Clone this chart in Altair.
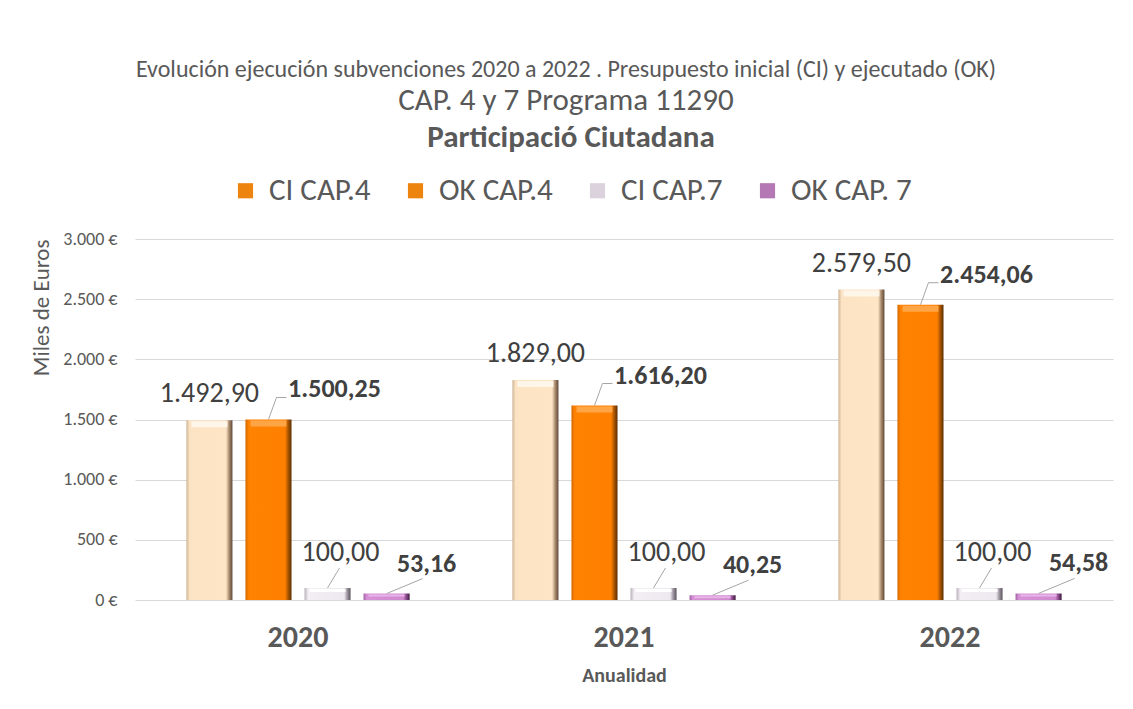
import altair as alt
import pandas as pd

# ---- data ----
years = ["2020", "2021", "2022"]
series = ["CI CAP.4", "OK CAP.4", "CI CAP.7", "OK CAP. 7"]
ci_cap4 = [1492.90, 1829.00, 2579.50]
ok_cap4 = [1500.25, 1616.20, 2454.06]
ci_cap7 = [100.00, 100.00, 100.00]
ok_cap7 = [53.16, 40.25, 54.58]
y_ticks = [0, 500, 1000, 1500, 2000, 2500, 3000]

FONT = "Carlito, Lato, sans-serif"
GRAY = "#595959"
DARK = "#404040"


def es_fmt(v):
    s = f"{v:,.2f}"
    return s.replace(",", "X").replace(".", ",").replace("X", ".")


rows = []
for s, vals in zip(series, [ci_cap4, ok_cap4, ci_cap7, ok_cap7]):
    for yr, v in zip(years, vals):
        rows.append({"year": yr, "series": s, "value": v, "label": es_fmt(v)})
df = pd.DataFrame(rows)


def grad(stops):
    return alt.LinearGradient(
        gradient="linear", x1=0, x2=1, y1=0, y2=0,
        stops=[alt.GradientStop(offset=o, color=c) for o, c in stops],
    )


bar_fills = {
    "CI CAP.4": grad([(0, "#CDB596"), (0.07, "#FBE3C4"), (0.86, "#FDE5C6"), (0.93, "#A88A6C"), (1, "#5E4838")]),
    "OK CAP.4": grad([(0, "#D46A00"), (0.07, "#FF8200"), (0.86, "#FF8000"), (0.93, "#A85400"), (1, "#5A2E00")]),
    "CI CAP.7": grad([(0, "#B8B0BA"), (0.08, "#F3EDF4"), (0.86, "#EEE8F0"), (0.93, "#9C949E"), (1, "#5A545C")]),
    "OK CAP. 7": grad([(0, "#A060A0"), (0.07, "#D792D7"), (0.86, "#D08AD0"), (0.93, "#8A4A8A"), (1, "#3A1A3A")]),
}
top_bevel = {
    "CI CAP.4": ("#FFF6EA", 6),
    "OK CAP.4": ("#FFA545", 6),
    "CI CAP.7": ("#FFFFFF", 3),
    "OK CAP. 7": ("#E9B5E9", 2),
}
legend_colors = ["#EE8410", "#EE8410", "#DCD2DE", "#B478B4"]

x_enc = alt.X(
    "year:N", sort=years, title="Anualidad",
    scale=alt.Scale(paddingInner=0, paddingOuter=0),
    axis=alt.Axis(
        labelFont=FONT, labelFontSize=30, labelFontWeight="bold", labelColor=GRAY,
        labelAngle=0, labelPadding=22, ticks=False, domain=False,
        titleFont=FONT, titleFontSize=20, titleFontWeight="bold", titleColor=GRAY,
        titlePadding=13,
    ),
)
xo_enc = alt.XOffset(
    "series:N", sort=series,
    scale=alt.Scale(domain=series, paddingInner=0.22, paddingOuter=0.87),
)
y_enc = alt.Y(
    "value:Q", title="Miles de Euros",
    scale=alt.Scale(domain=[0, 3000]),
    axis=alt.Axis(
        values=y_ticks, labelExpr="replace(format(datum.value, ',d'), ',', '.') + ' €'",
        labelFont=FONT, labelFontSize=18, labelColor=GRAY, labelPadding=18,
        ticks=False, domain=False, gridColor="#D9D9D9", gridWidth=1,
        titleFont=FONT, titleFontSize=23, titleFontWeight="normal", titleColor=GRAY,
        titleAnchor="end", titlePadding=9,
    ),
)

base = alt.Chart(df)

layers = []
for s in series:
    layers.append(
        base.transform_filter(alt.datum.series == s)
        .mark_bar(color=bar_fills[s])
        .encode(x=x_enc, xOffset=xo_enc, y=y_enc)
    )
    col, th = top_bevel[s]
    layers.append(
        base.transform_filter(alt.datum.series == s)
        .mark_tick(orient="horizontal", size=36, thickness=th, yOffset=th / 2 + 1, color=col, opacity=1)
        .encode(x=x_enc, xOffset=xo_enc, y=y_enc)
    )

# dummy invisible layer carrying the legend
layers.append(
    base.mark_square(opacity=0, size=4).encode(
        x=x_enc, xOffset=xo_enc, y=y_enc,
        color=alt.Color(
            "series:N", sort=series,
            scale=alt.Scale(domain=series, range=legend_colors),
            legend=alt.Legend(
                title="Participació Ciutadana", orient="none", legendX=95, legendY=-116,
                direction="horizontal", titleAnchor="middle", titleOrient="top",
                titleFont=FONT, titleFontSize=31, titleFontWeight="bold", titleColor=GRAY,
                titlePadding=21, titleLimit=800,
                labelFont=FONT, labelFontSize=31, labelColor=GRAY, labelLimit=400,
                symbolType="square", symbolSize=230, symbolOpacity=1, symbolStrokeWidth=0,
                columnPadding=29, labelOffset=8,
            ),
        ),
    )
)

# leader lines
leaders = {
    "OK CAP.4": "M0,0L8,-22L18,-22",
    "CI CAP.7": "M0,0L12,-20",
    "OK CAP. 7": "M0,0L36,-15",
}
for s, path in leaders.items():
    layers.append(
        base.transform_filter(alt.datum.series == s)
        .mark_point(shape=path, size=4, filled=False, color="#A6A6A6", strokeWidth=1, opacity=1)
        .encode(x=x_enc, xOffset=xo_enc, y=y_enc)
    )

# value labels
label_style = {
    "CI CAP.4": dict(dx=0, dy=-18, fontWeight="normal", fontSize=28),
    "OK CAP.4": dict(dx=66, dy=-22, fontWeight="bold", fontSize=26),
    "CI CAP.7": dict(dx=13, dy=-27, fontWeight="normal", fontSize=28),
    "OK CAP. 7": dict(dx=40, dy=-22, fontWeight="bold", fontSize=26),
}
for s, st in label_style.items():
    layers.append(
        base.transform_filter(alt.datum.series == s)
        .mark_text(font=FONT, color=DARK, baseline="alphabetic", align="center", **st)
        .encode(x=x_enc, xOffset=xo_enc, y=y_enc, text="label:N")
    )

chart = (
    alt.layer(*layers)
    .properties(
        width=978, height=361,
        autosize=alt.AutoSizeParams(type="none"),
        padding={"left": 127, "top": 231, "right": 12, "bottom": 90},
        title=alt.TitleParams(
            text="Evolución ejecución subvenciones  2020 a 2022 . Presupuesto inicial (CI)  y ejecutado (OK)",
            subtitle="CAP. 4  y 7 Programa 11290",
            font=FONT, fontSize=24, fontWeight="normal", color=GRAY,
            subtitleFont=FONT, subtitleFontSize=31, subtitleColor=GRAY, subtitlePadding=4,
            anchor="middle", dx=-58, offset=7,
        ),
    )
    .configure_view(stroke=None)
)

chart.save("out.html", embed_options={"renderer": "svg", "actions": False})
